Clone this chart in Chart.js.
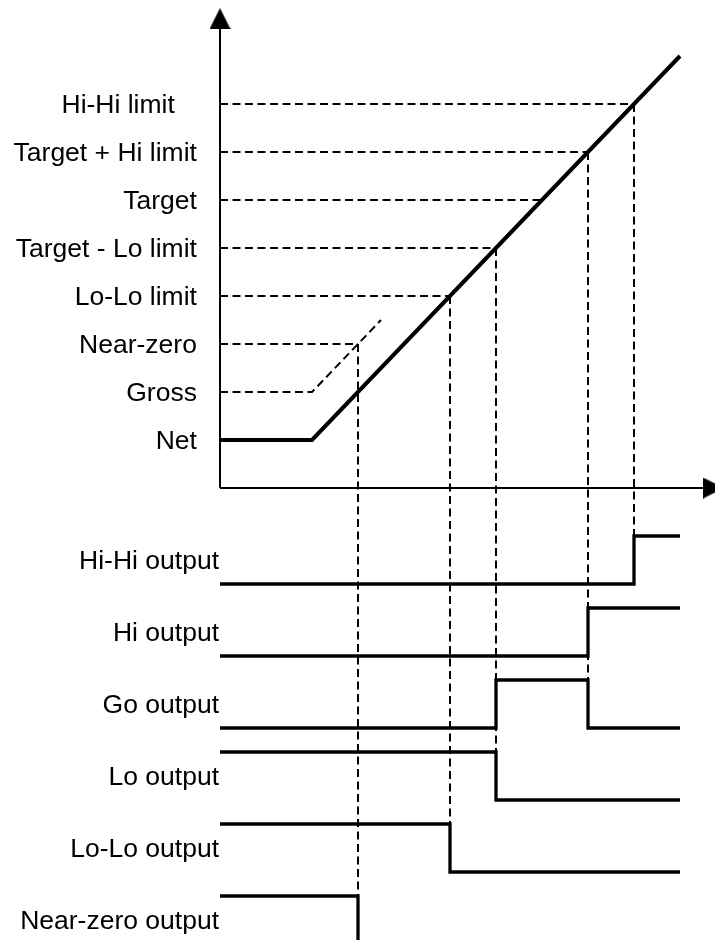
<!DOCTYPE html>
<html>
<head>
<meta charset="utf-8">
<script src="https://cdn.jsdelivr.net/npm/chart.js@4/dist/chart.umd.min.js"></script>
<style>
  html, body { margin: 0; padding: 0; background: #fff; overflow: hidden; }
  #wrap { width: 715px; height: 940px; position: relative; }
  #chart { display: block; }
</style>
</head>
<body>
<div id="wrap"><canvas id="chart"></canvas></div>
<script>
// level labels on the weight axis (top part)
const levelLabels = ['Net', 'Gross', 'Near-zero', 'Lo-Lo limit', 'Target - Lo limit', 'Target', 'Target + Hi limit', 'Hi-Hi limit'];
const levelValues = [1, 2, 3, 4, 5, 6, 7, 8];

// output labels (bottom part), placed mid-way in each trace
const outputLabels = ['Hi-Hi output', 'Hi output', 'Go output', 'Lo output', 'Lo-Lo output', 'Near-zero output'];
const outputValues = [-1.5, -3, -4.5, -6, -7.5, -9];

// net weight trace and gross weight trace
const netX = [0, 2, 10];
const netY = [1, 1, 9];
const grossX = [0, 2, 3.5];
const grossY = [2, 2, 3.5];

// where each limit meets its trace (horizontal dashed lines end here)
const limitLevel = [3, 4, 5, 6, 7, 8];
const limitX = [3, 5, 6, 7, 8, 9];

// vertical dashed drops down to the outputs
const dropX = [3, 5, 6, 8, 9];
const dropTop = [3, 4, 5, 7, 8];
const dropBottom = [-8.5, -7, -5.5, -4, -1];

// output step traces (stepped 'before')
const hiHiX = [0, 9, 10], hiHiY = [-2, -1, -1];
const hiX = [0, 8, 10], hiY = [-3.5, -2.5, -2.5];
const goX = [0, 6, 8, 10], goY = [-5, -4, -5, -5];
const loX = [0, 6, 10], loY = [-5.5, -6.5, -6.5];
const loLoX = [0, 5, 10], loLoY = [-7, -8, -8];
const nearZeroX = [0, 3, 10], nearZeroY = [-8.5, -9.5, -9.5];

const pts = (xs, ys) => xs.map((x, i) => ({ x: x, y: ys[i] }));

const solid = (data, w, extra) => Object.assign({
  data: data, borderColor: '#000', borderWidth: w, pointRadius: 0,
  borderJoinStyle: 'miter', borderCapStyle: 'butt', order: 0, fill: false
}, extra || {});

const dashed = (data) => ({
  data: data, borderColor: '#000', borderWidth: 2, borderDash: [8, 4.5],
  pointRadius: 0, borderCapStyle: 'butt', order: 2, fill: false
});

// arrow head used at the end of both axes (drawn pointing up, rotated for x)
const arrow = document.createElement('canvas');
arrow.width = 21;
arrow.height = 21;
(function () {
  const c = arrow.getContext('2d');
  c.fillStyle = '#000';
  c.beginPath();
  c.moveTo(10.5, 0);
  c.lineTo(21, 21);
  c.lineTo(0, 21);
  c.closePath();
  c.fill();
})();

const datasets = [];

// axes
datasets.push(solid([{ x: 0, y: 0 }, { x: 10.5, y: 0 }], 2, { clip: false }));
datasets.push(solid([{ x: 0, y: 0 }, { x: 0, y: 9.7 }], 2, { clip: false }));
datasets.push({
  data: [{ x: 0, y: 9.78 }, { x: 10.728, y: 0 }],
  showLine: false, pointStyle: arrow, pointRadius: 10, pointRotation: [0, 90],
  clip: false, order: 0
});

// weight traces
datasets.push(solid(pts(netX, netY), 4));
datasets.push(dashed(pts(grossX, grossY)));

// limit lines
limitLevel.forEach((lv, i) => datasets.push(dashed([{ x: 0, y: lv }, { x: limitX[i], y: lv }])));
dropX.forEach((x, i) => datasets.push(dashed([{ x: x, y: dropTop[i] }, { x: x, y: dropBottom[i] }])));

// outputs
[[hiHiX, hiHiY], [hiX, hiY], [goX, goY], [loX, loY], [loLoX, loLoY], [nearZeroX, nearZeroY]]
  .forEach(([xs, ys]) => datasets.push(solid(pts(xs, ys), 3.3, { stepped: true })));

const tickValues = outputValues.concat(levelValues).sort((a, b) => a - b);

new Chart(document.getElementById('chart'), {
  type: 'line',
  data: { datasets: datasets },
  options: {
    responsive: true,
    maintainAspectRatio: false,
    animation: false,
    layout: { padding: 0, autoPadding: false },
    plugins: { legend: { display: false }, tooltip: { enabled: false } },
    scales: {
      x: { type: 'linear', min: 0, max: 495 / 46, display: false },
      y: {
        type: 'linear', min: -452 / 48, max: 488 / 48,
        grid: { display: false, drawTicks: false },
        border: { display: false },
        afterBuildTicks: (scale) => { scale.ticks = tickValues.map(v => ({ value: v })); },
        afterFit: (scale) => {
          scale.width = 220;
          // no extra room for half-labels at the ends
          scale.paddingTop = 0;
          scale.paddingBottom = 0;
        },
        ticks: {
          autoSkip: false,
          padding: 1,
          labelOffset: 2,
          color: '#000',
          font: { family: '"Liberation Sans", Arial, sans-serif', size: 26.5 },
          callback: (value) => {
            let i = levelValues.indexOf(value);
            if (i >= 0) {
              // limit labels sit a little off the axis; Hi-Hi further still
              return levelLabels[i] + (value === 8 ? '      ' : '   ');
            }
            i = outputValues.indexOf(value);
            return i >= 0 ? outputLabels[i] : '';
          }
        }
      }
    }
  }
});
</script>
</body>
</html>
